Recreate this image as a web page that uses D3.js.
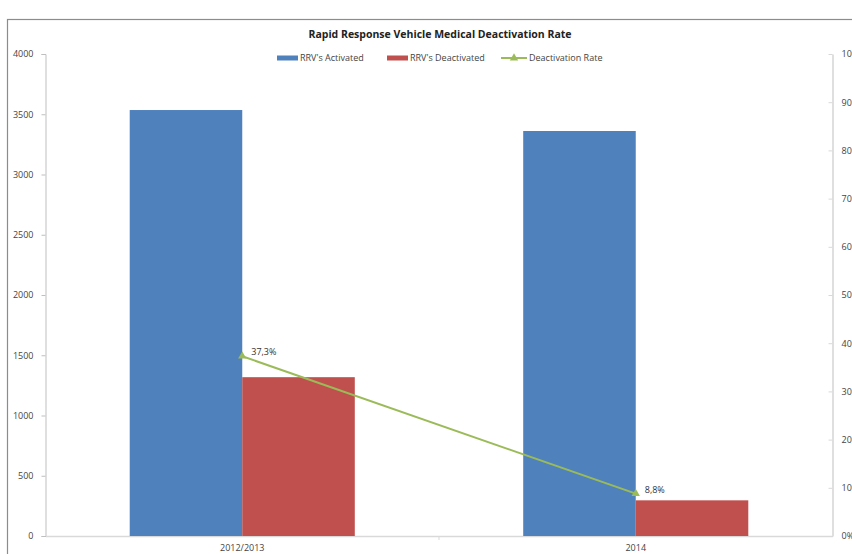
<!DOCTYPE html>
<html><head><meta charset="utf-8">
<script src="https://cdn.jsdelivr.net/npm/d3@7"></script>
<style>body{margin:0;background:#fff}svg{display:block}text{font-family:"Open Sans","Liberation Sans",sans-serif}</style>
</head><body><svg id="c" width="852" height="554"></svg>
<script>
const categories = ["2012/2013", "2014"];
const activated = [3535, 3361];
const deactivated = [1318, 296];
const rate = [37.3, 8.8];
const rateLabels = ["37,3%", "8,8%"];
const leftTicks = [0, 500, 1000, 1500, 2000, 2500, 3000, 3500, 4000];
const rightTicks = [0, 10, 20, 30, 40, 50, 60, 70, 80, 90, 100];
const seriesNames = ["RRV's Activated", "RRV's Deactivated", "Deactivation Rate"];
const colors = ["#4F81BD", "#C0504D", "#9BBB59"];

const svg = d3.select("#c");
const L = 45.5, R = 832.5, T = 54, B = 536;

// chart border
svg.append("rect").attr("x", 7.5).attr("y", 19.5).attr("width", 900).attr("height", 600)
  .attr("fill", "none").attr("stroke", "#8c8c8c").attr("stroke-width", 1.2);

const x = d3.scaleBand().domain(categories).range([L, R]);
const yL = d3.scaleLinear().domain([0, 4000]).range([B, T]);
const yR = d3.scaleLinear().domain([0, 100]).range([B, T]);
const barW = x.bandwidth() * 0.286;

// title
svg.append("text").attr("x", 440).attr("y", 38).attr("text-anchor", "middle")
  .attr("font-size", 10.5).attr("font-weight", "bold").attr("fill", "#222")
  .text("Rapid Response Vehicle Medical Deactivation Rate");

// left axis
const gl = svg.append("g").attr("transform", `translate(${L},0)`)
  .call(d3.axisLeft(yL).tickValues(leftTicks).tickFormat(d3.format("d")).tickSize(4).tickPadding(8));
gl.select(".domain").attr("stroke", "#bfbfbf");
gl.selectAll(".tick line").attr("stroke", "#bfbfbf");
gl.selectAll("text").attr("font-size", 9).attr("fill", "#444");

// right axis
const gr = svg.append("g").attr("transform", `translate(${R},0)`)
  .call(d3.axisRight(yR).tickValues(rightTicks).tickFormat(d => d + "%").tickSize(0).tickSizeOuter(0).tickPadding(9));
gr.select(".domain").attr("stroke", "#bfbfbf");
gr.selectAll(".tick").append("line").attr("x1", -4).attr("x2", 0).attr("stroke", "#d9d9d9");
gr.selectAll("text").attr("font-size", 9).attr("fill", "#444");

// bottom axis
const gb = svg.append("g").attr("transform", `translate(0,${B})`)
  .call(d3.axisBottom(x).tickSize(0).tickSizeOuter(0).tickPadding(9));
gb.select(".domain").attr("stroke", "#d9d9d9").attr("stroke-width", 1.5);
gb.selectAll("text").attr("font-size", 9).attr("fill", "#444");
svg.append("line").attr("x1", (L + R) / 2).attr("x2", (L + R) / 2).attr("y1", B).attr("y2", B + 4).attr("stroke", "#d9d9d9");

// bars
const cx = c => x(c) + x.bandwidth() / 2;
svg.selectAll(".ba").data(categories).join("rect")
  .attr("x", c => cx(c) - barW).attr("width", barW)
  .attr("y", (c, i) => yL(activated[i])).attr("height", (c, i) => B - yL(activated[i]))
  .attr("fill", colors[0]);
svg.selectAll(".bd").data(categories).join("rect")
  .attr("x", c => cx(c)).attr("width", barW)
  .attr("y", (c, i) => yL(deactivated[i])).attr("height", (c, i) => B - yL(deactivated[i]))
  .attr("fill", colors[1]);

// line
const line = d3.line().x((d, i) => cx(categories[i])).y(d => yR(d));
svg.append("path").datum(rate).attr("d", line).attr("fill", "none")
  .attr("stroke", colors[2]).attr("stroke-width", 2);
const tri = d3.symbol().type(d3.symbolTriangle).size(30);
svg.selectAll(".m").data(rate).join("path")
  .attr("transform", (d, i) => `translate(${cx(categories[i])},${yR(d)})`)
  .attr("d", tri).attr("fill", colors[2]);
svg.selectAll(".lbl").data(rate).join("text")
  .attr("x", (d, i) => cx(categories[i]) + 9).attr("y", d => yR(d) - 1)
  .attr("font-size", 9).attr("fill", "#333").text((d, i) => rateLabels[i]);

// legend
const lg = svg.append("g").attr("transform", "translate(0,58)");
const lx = [277, 387, 501];
[0, 1].forEach(i => {
  lg.append("rect").attr("x", lx[i]).attr("y", -2.5).attr("width", 21).attr("height", 5).attr("fill", colors[i]);
  lg.append("text").attr("x", lx[i] + 23).attr("y", 3).attr("font-size", 9).attr("fill", "#444").text(seriesNames[i]);
});
lg.append("line").attr("x1", lx[2]).attr("x2", lx[2] + 26).attr("y1", 0).attr("y2", 0).attr("stroke", colors[2]).attr("stroke-width", 2);
lg.append("path").attr("transform", `translate(${lx[2] + 13},0)`).attr("d", tri).attr("fill", colors[2]);
lg.append("text").attr("x", lx[2] + 28).attr("y", 3).attr("font-size", 9).attr("fill", "#444").text(seriesNames[2]);
</script></body></html>
